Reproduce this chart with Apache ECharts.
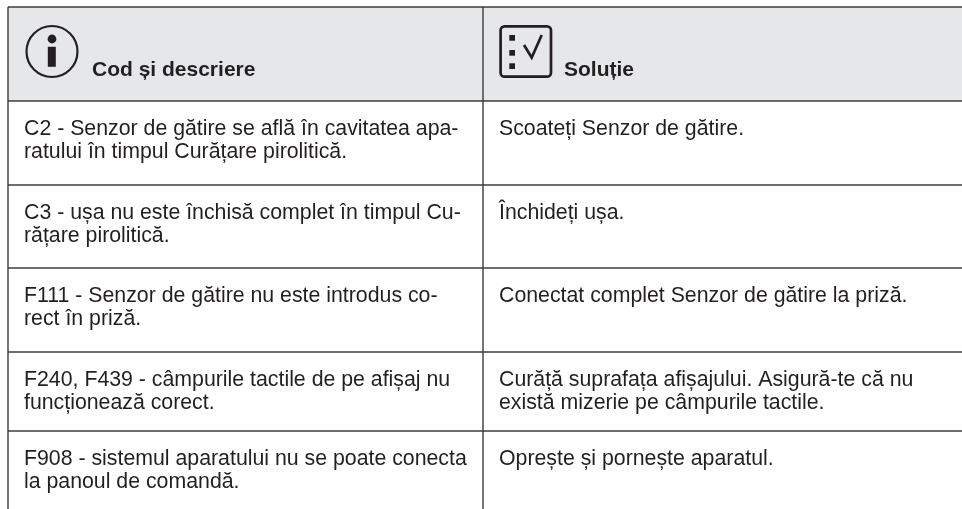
<!DOCTYPE html>
<html lang="en">
<head>
<meta charset="UTF-8">
<title>Cod si descriere</title>
<script src="https://cdn.jsdelivr.net/npm/echarts@6/dist/echarts.min.js"></script>
<style>
*{margin:0;padding:0}
body{background:#fff;overflow:hidden}
#chart{width:962px;height:509px}
</style>
</head>
<body>
<div id="chart"></div>
<script>
const headers = ['Cod și descriere', 'Soluție'];
const codes = [
    ['C2 - Senzor de gătire se află în cavitatea apa-', 'ratului în timpul Curățare pirolitică.'],
    ['C3 - ușa nu este închisă complet în timpul Cu-', 'rățare pirolitică.'],
    ['F111 - Senzor de gătire nu este introdus co-', 'rect în priză.'],
    ['F240, F439 - câmpurile tactile de pe afișaj nu', 'funcționează corect.'],
    ['F908 - sistemul aparatului nu se poate conecta', 'la panoul de comandă.']
];
const solutions = [
    ['Scoateți Senzor de gătire.'],
    ['Închideți ușa.'],
    ['Conectat complet Senzor de gătire la priză.'],
    ['Curăță suprafața afișajului. Asigură-te că nu', 'există mizerie pe câmpurile tactile.'],
    ['Oprește și pornește aparatul.']
];
const rowLines = [7, 101, 185, 268, 352, 431];

const left = 8, mid = 483, right = 962, bottom = 509;
const lineColor = '#3c3c3c', textColor = '#231f20';
const font = '"Liberation Sans", Arial, sans-serif';

function line(x1, y1, x2, y2, w) {
    return {type: 'line', shape: {x1, y1, x2, y2}, style: {stroke: lineColor, lineWidth: w || 1.4}};
}
function text(x, y, str, size, weight) {
    return {type: 'text', x, y, style: {text: str, fontSize: size, fontWeight: weight || 'normal',
        fontFamily: font, fill: textColor, verticalAlign: 'middle'}};
}

let els = [];
els.push({type: 'rect', shape: {x: left, y: rowLines[0], width: right - left, height: rowLines[1] - rowLines[0]},
    style: {fill: '#e6e7e8'}});

rowLines.forEach(y => els.push(line(left, y, right, y)));
els.push(line(left, rowLines[0], left, bottom));
els.push(line(mid, rowLines[0], mid, bottom));

// info icon
els.push({type: 'circle', shape: {cx: 52, cy: 51.5, r: 25.5}, style: {fill: 'none', stroke: textColor, lineWidth: 2.2}});
els.push({type: 'circle', shape: {cx: 52, cy: 39, r: 4.4}, style: {fill: textColor}});
els.push({type: 'rect', shape: {x: 47.8, y: 46.8, width: 8, height: 20}, style: {fill: textColor}});

// checklist icon
els.push({type: 'rect', shape: {x: 500.6, y: 26.3, width: 50.4, height: 50.4, r: 4}, style: {fill: 'none', stroke: textColor, lineWidth: 2.7}});
[35, 50, 63.3].forEach(y => els.push({type: 'rect', shape: {x: 509.3, y: y, width: 5.7, height: 5.7}, style: {fill: textColor}}));
els.push({type: 'polyline', shape: {points: [[524, 45], [531.7, 57.5], [541.7, 35]]}, style: {fill: 'none', stroke: textColor, lineWidth: 2.7}});

els.push(text(92, 70, headers[0], 21, 'bold'));
els.push(text(564, 70, headers[1], 21, 'bold'));

codes.forEach((rows, i) => {
    let y0 = rowLines[i + 1] + 28;
    rows.forEach((s, k) => els.push(text(24, y0 + k * 23.5, s, 21.3)));
});
solutions.forEach((rows, i) => {
    let y0 = rowLines[i + 1] + 28;
    rows.forEach((s, k) => els.push(text(499, y0 + k * 23.5, s, 21.3)));
});

let chart = echarts.init(document.getElementById('chart'), null, {renderer: 'canvas'});
chart.setOption({animation: false, graphic: {elements: els}});
</script>
</body>
</html>
